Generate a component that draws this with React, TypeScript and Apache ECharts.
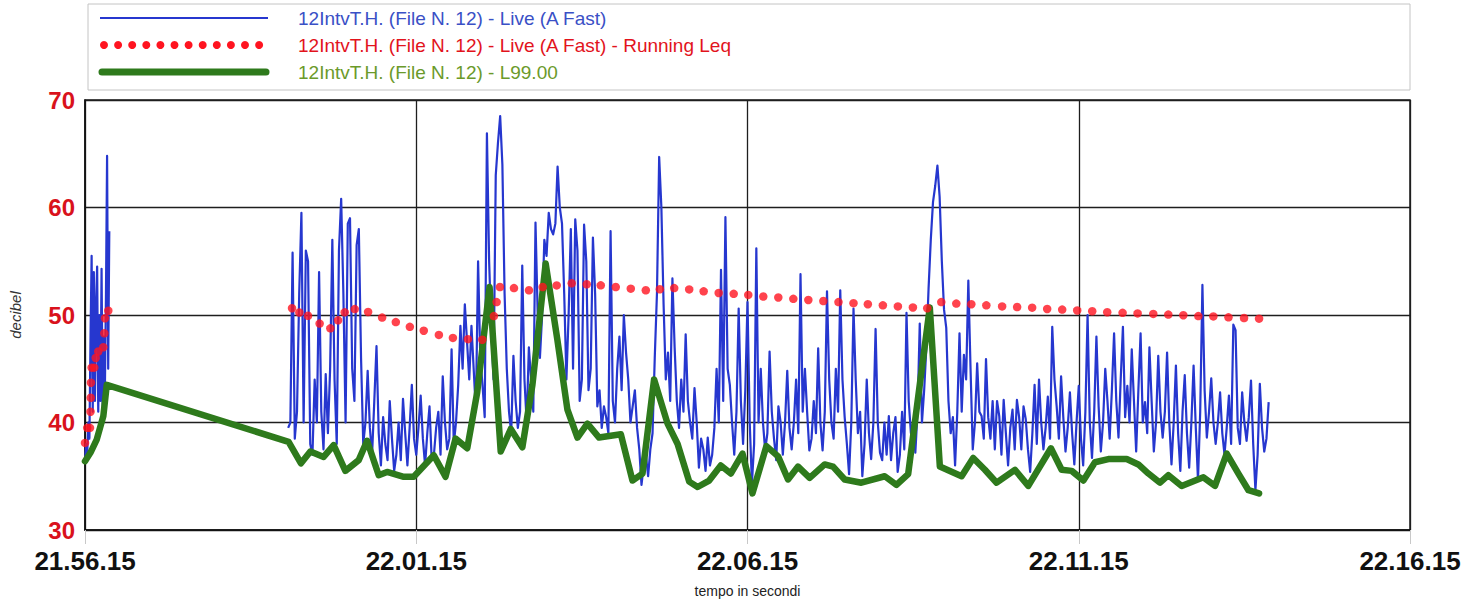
import React, { useEffect, useRef } from "react";
import * as echarts from "echarts";

// ---- Axis ticks ----
const xTickLabels = ["21.56.15", "22.01.15", "22.06.15", "22.11.15", "22.16.15"]; // every 300 s
const xTickStep = 300;
const yMin = 30;
const yMax = 70;
const yStep = 10;

// ---- Legend labels ----
const legendLive = "12IntvT.H. (File N. 12) - Live (A Fast)";
const legendLeq = "12IntvT.H. (File N. 12) - Live (A Fast) - Running Leq";
const legendL99 = "12IntvT.H. (File N. 12) - L99.00";

// ---- Live (A Fast), first block: t = 0..22 s, 1 s step ----
const liveSeg1Start = 0;
const liveSeg1Step = 1;
const liveSeg1 = [36.5, 38, 37, 40, 38.5, 48, 55.5, 41, 54, 42, 51, 54.5, 41, 50, 42, 54.3, 41.5, 48, 43, 52, 64.8, 45, 57.8];

// ---- Live (A Fast), second block: from t = 184 s, 2 s step ----
const liveSeg2Start = 184;
const liveSeg2Step = 2;
const liveSeg2 = [
  39.5, 40, 55.8, 38.5, 41, 52, 59.5, 40, 56, 55, 38, 37, 44, 40, 54, 41, 37.5, 44.5, 39, 45,
  57, 44, 38, 56, 60.8, 52, 40, 58.5, 59, 45, 42, 56.5, 58, 46, 38, 40, 44.8, 39.5, 37, 42,
  47.1, 39, 36, 40.5, 38, 36.5, 42, 38.5, 35.5, 37, 40, 36.5, 42.2, 39, 36, 39.5, 43.5, 38.5, 37, 39.5,
  42.5, 38.5, 36, 39, 41.5, 36.5, 37, 39.5, 41, 37, 44.3, 40, 37.5, 38.5, 46.8, 38, 40, 43.5, 49, 45,
  51, 47.5, 44, 49, 45, 41, 55, 46, 43.5, 40.5, 66.9, 55, 48.7, 44, 63, 66, 68.5, 64, 52, 45,
  41, 39, 46.2, 42, 39.5, 41, 54.6, 44, 40, 47, 44, 41, 58.6, 50, 46, 50, 57, 55.5, 59.5, 58,
  57.5, 58.5, 63.8, 60, 58.5, 52, 44, 50, 58, 45, 58.9, 56, 42, 44, 58.4, 55, 43, 45, 57.2, 52,
  41.5, 43, 39.5, 41.5, 40.5, 39, 57.8, 42, 40, 45, 48, 43, 50, 46.5, 44, 40, 41.5, 43, 39.5, 37.5,
  34.2, 36, 37, 35, 37.5, 39, 46, 52, 64.7, 60, 51, 44, 46.5, 42, 53.4, 47, 42, 39.5, 44, 41,
  48.2, 42, 40, 38.5, 43.2, 40, 35.8, 38.5, 37.5, 35.5, 38.6, 36, 37, 39.5, 45, 40, 54.2, 42, 59.1, 45,
  43.5, 40, 37, 41, 50.6, 42, 38, 43, 51.2, 40, 34.3, 38, 56.2, 40, 45, 40, 37.4, 39, 46.6, 41,
  38.5, 36.5, 41.5, 40, 37, 40, 44.8, 39.5, 37.5, 40, 44, 39, 53.8, 41, 45, 41, 37.4, 38.5, 42, 39,
  46.9, 40, 37.4, 41, 52.2, 44, 40, 38.5, 45, 41, 52.3, 44, 40.5, 38, 35.2, 40, 50.6, 44, 39, 41,
  35, 38, 44, 39, 36.6, 40, 48.7, 40, 37.2, 36.5, 40, 37, 40.6, 36.5, 39, 40.5, 35.4, 37, 41, 37.5,
  50.2, 42, 39, 40, 37.2, 41, 49.2, 40, 43, 47, 52.5, 57, 60.5, 62, 63.9, 61, 55, 50.5, 48.8, 42,
  39, 40.5, 36, 41, 48.3, 41, 46.3, 44, 53.2, 45, 37.5, 40, 45.5, 41, 40.6, 38.5, 45.9, 40.5, 38.5, 42,
  37.5, 42, 40.6, 37, 42.1, 39, 36, 39.5, 41.2, 37.5, 42.1, 40.5, 37.5, 41.5, 40.3, 37.5, 35.4, 39, 43.5, 38,
  44, 40, 37.5, 39.5, 42.4, 38.5, 48.9, 44, 41.5, 38.5, 44.3, 40.5, 37.3, 39.5, 42.8, 39, 36.1, 40, 43.4, 38.5,
  36, 41, 50, 40, 36.7, 41, 48, 41.5, 37.3, 40, 45, 42, 38.5, 43, 48.3, 42, 38.6, 44, 48.9, 40.5,
  43.4, 40, 46.8, 42, 37.3, 43, 48.3, 40, 41.9, 39, 47, 42, 37.3, 40, 46.2, 41, 38.6, 41, 46.5, 40,
  36.1, 40, 45.3, 39, 35.5, 41, 44.4, 39, 35.8, 40, 45.3, 39.5, 34.6, 41, 52.8, 43, 38.6, 41, 44.1, 40,
  38, 40, 42.8, 39, 37, 39.5, 42.5, 38, 49.1, 48.6, 39.5, 38, 42.8, 40, 38.3, 40.5, 43.9, 38, 33.7, 37,
  43.6, 39.5, 37.3, 38.5, 41.9,
];

// ---- Running Leq (seconds, dB) ----
const leqTimes = [
  0, 2, 4.5, 5, 5.2, 5.4, 6, 8.4, 9.7, 12, 16.6, 17.5, 18.1, 21.1,
  187.5, 194.1, 202, 212.5, 222.2, 229.2, 235.2, 244.3, 256.4, 269.1, 281.5, 294.2, 306.8, 320.5,
  333.2, 346.8, 359.8, 370.3, 372.8, 375.8, 388.5, 402.1, 414.5, 427.2, 440.8, 454.4, 467.1, 480.7,
  494.3, 507.9, 520.6, 533.6, 547.2, 560.3, 573.9, 587.5, 600.7, 614.3, 627.9, 641.5, 655.1, 668.7,
  682.4, 696, 709, 722.6, 736.2, 749.8, 762.8, 775.5, 789.1, 802.7, 816.3, 830.6, 844.2, 857.8,
  871.4, 885, 898.6, 912.2, 925.8, 939.7, 953.3, 967.5, 981.1, 994.7, 1008.3, 1021.9, 1035.6, 1049.7,
  1063.3,
];
const leqValues = [
  38.1, 39.5, 39.5, 41, 42.3, 43.7, 45.1, 45.1, 46, 46.6, 47, 48.3, 49.7, 50.4,
  50.63, 50.23, 49.93, 49.2, 48.76, 49.5, 50.25, 50.55, 50.28, 49.76, 49.34, 48.9, 48.54, 48.15,
  47.87, 47.75, 47.7, 49.9, 51.2, 52.6, 52.5, 52.3, 52.6, 52.75, 52.95, 52.86, 52.76, 52.6,
  52.45, 52.3, 52.4, 52.5, 52.38, 52.2, 52.05, 51.97, 51.87, 51.72, 51.63, 51.5, 51.4, 51.3,
  51.2, 51.1, 51, 50.9, 50.8, 50.7, 50.63, 51.2, 51.06, 51, 50.9, 50.8, 50.74, 50.68,
  50.56, 50.5, 50.42, 50.35, 50.26, 50.2, 50.15, 50.1, 50.04, 49.98, 49.9, 49.87, 49.78, 49.72,
  49.66,
];

// ---- L99.00 (seconds, dB) ----
const l99Times = [
  0, 5, 10.6, 16.6, 19.7, 184.4, 195.6, 204.1, 216.1, 225.2, 235.8, 247.9, 255.5, 266, 273.6,
  288.7, 297.7, 315.9, 326.5, 335.6, 346.2, 355.2, 366.4, 376.5, 385.6, 396.1, 405.2, 417.2, 427.8,
  436.9, 446, 455, 465.6, 485.3, 495.8, 504.9, 515.4, 527.6, 536.7, 547.2, 554.8, 565.3, 575.8,
  584.9, 595.5, 604.5, 617.1, 627.7, 636.7, 645.8, 656.3, 669.9, 677.5, 688, 703.1, 724.3, 734.9,
  745.5, 765.1, 774.2, 793.9, 804.4, 815, 825.6, 842.2, 854.3, 874.8, 884.5, 893.6, 904.2, 914.7,
  926.8, 943.4, 954, 963.1, 973.6, 981.2, 993.2, 1012.9, 1023.4, 1034, 1044.6, 1053.7, 1063.3,
];
const l99Values = [
  36.4, 37.2, 38.4, 40.6, 43.5, 38.2, 36.2, 37.3, 36.8, 37.9, 35.5, 36.5, 38.3, 35.1, 35.4,
  34.95, 34.95, 36.95, 34.95, 38.5, 37.6, 42.8, 52.6, 37.3, 39.4, 37.7, 43.5, 54.8, 47.7,
  41.2, 38.6, 39.9, 38.6, 38.9, 34.6, 35.25, 44, 39.9, 38, 34.5, 34, 34.6, 36,
  35.25, 37.1, 33.4, 37.8, 36.85, 34.7, 35.9, 34.85, 36.1, 35.9, 34.7, 34.4, 35, 34.2,
  35.2, 50.7, 35.9, 35, 36.7, 35.6, 34.4, 35.6, 34.1, 37.6, 35.6, 35.5, 34.6, 36.3,
  36.6, 36.6, 36.1, 35.25, 34.4, 35.1, 34.1, 34.9, 34.1, 37.1, 35.25, 33.7, 33.4,
];

const BLUE = "#2637cf";
const RED = "#ff1420";
const GREEN = "#2e7a1c";
const NARROW = "'Liberation Sans Narrow', 'Arial Narrow', 'Liberation Sans', Arial, sans-serif";
const SANS = "'Liberation Sans', Arial, Helvetica, sans-serif";

export default function App() {
  const ref = useRef<HTMLDivElement>(null);

  useEffect(() => {
    if (!ref.current) return;
    const chart = echarts.init(ref.current, undefined, { renderer: "svg" });

    const live1 = liveSeg1.map((v, i) => [liveSeg1Start + i * liveSeg1Step, v]);
    const live2 = liveSeg2.map((v, i) => [liveSeg2Start + i * liveSeg2Step, v]);
    const leq = leqTimes.map((t, i) => [t, leqValues[i]]);
    const l99 = l99Times.map((t, i) => [t, l99Values[i]]);

    const liveStyle = {
      type: "line",
      showSymbol: false,
      symbol: "none",
      sampling: undefined,
      lineStyle: { color: BLUE, width: 2.2, join: "round" },
      itemStyle: { color: BLUE },
      z: 2,
    };

    const legendDots: any[] = [];
    for (let k = 0; k < 12; k++) {
      legendDots.push({
        type: "circle",
        shape: { cx: 104 + k * 14.1, cy: 45, r: 4 },
        style: { fill: RED },
      });
    }

    chart.setOption({
      animation: false,
      backgroundColor: "#ffffff",
      grid: {
        left: 85,
        right: 58,
        top: 100,
        bottom: 66,
        show: true,
        borderColor: "#1a1a1a",
        borderWidth: 1.5,
        backgroundColor: "transparent",
      },
      xAxis: {
        type: "value",
        min: 0,
        max: xTickStep * (xTickLabels.length - 1),
        interval: xTickStep,
        axisLine: { show: true, lineStyle: { color: "#111", width: 1.5 } },
        axisTick: { show: true, length: 14, lineStyle: { color: "#c8c8c8", width: 1 } },
        axisLabel: {
          color: "#111",
          fontWeight: "bold",
          fontSize: 26,
          fontFamily: NARROW,
          margin: 18,
          formatter: (v: number) => xTickLabels[Math.round(v / xTickStep)] ?? "",
        },
        splitLine: { show: true, lineStyle: { color: "#1e1e1e", width: 1.3 } },
        name: "tempo in secondi",
        nameLocation: "middle",
        nameGap: 54,
        nameTextStyle: { color: "#222", fontSize: 14, fontFamily: NARROW },
      },
      yAxis: {
        type: "value",
        min: yMin,
        max: yMax,
        interval: yStep,
        axisLine: { show: true, lineStyle: { color: "#111", width: 1.5 } },
        axisTick: { show: false },
        axisLabel: {
          color: "#d9121c",
          fontWeight: "bold",
          fontSize: 24,
          fontFamily: SANS,
          margin: 10,
        },
        splitLine: { show: true, lineStyle: { color: "#1e1e1e", width: 1.3 } },
        name: "decibel",
        nameLocation: "middle",
        nameGap: 62,
        nameRotate: 90,
        nameTextStyle: { color: "#333", fontSize: 15, fontStyle: "italic", fontFamily: SANS },
      },
      series: [
        { ...liveStyle, name: legendLive, data: live1 },
        { ...liveStyle, name: legendLive + " ", data: live2 },
        {
          type: "line",
          name: legendL99,
          data: l99,
          showSymbol: false,
          symbol: "none",
          lineStyle: { color: GREEN, width: 6.5, join: "round", cap: "round" },
          itemStyle: { color: GREEN },
          z: 3,
        },
        {
          type: "scatter",
          name: legendLeq,
          data: leq,
          symbol: "circle",
          symbolSize: 8.5,
          itemStyle: { color: RED },
          z: 4,
        },
      ],
      graphic: [
        {
          type: "rect",
          shape: { x: 88, y: 4, width: 1322, height: 86 },
          style: { fill: "none", stroke: "#c4c4c4", lineWidth: 1 },
        },
        {
          type: "line",
          shape: { x1: 100, y1: 18, x2: 268, y2: 18 },
          style: { stroke: BLUE, lineWidth: 2 },
        },
        ...legendDots,
        {
          type: "line",
          shape: { x1: 102, y1: 72, x2: 266, y2: 72 },
          style: { stroke: GREEN, lineWidth: 7, lineCap: "round" },
        },
        {
          type: "text",
          x: 298,
          y: 18,
          style: { text: legendLive, fill: "#3a50c6", font: "19px " + SANS, textVerticalAlign: "middle" },
        },
        {
          type: "text",
          x: 298,
          y: 45,
          style: { text: legendLeq, fill: "#e2131c", font: "19px " + SANS, textVerticalAlign: "middle" },
        },
        {
          type: "text",
          x: 298,
          y: 72,
          style: { text: legendL99, fill: "#6b9a2a", font: "19px " + SANS, textVerticalAlign: "middle" },
        },
      ],
    });

    return () => chart.dispose();
  }, []);

  return (
    <div
      ref={ref}
      style={{ position: "fixed", left: 0, top: 0, width: 1468, height: 603, background: "#fff" }}
    />
  );
}
